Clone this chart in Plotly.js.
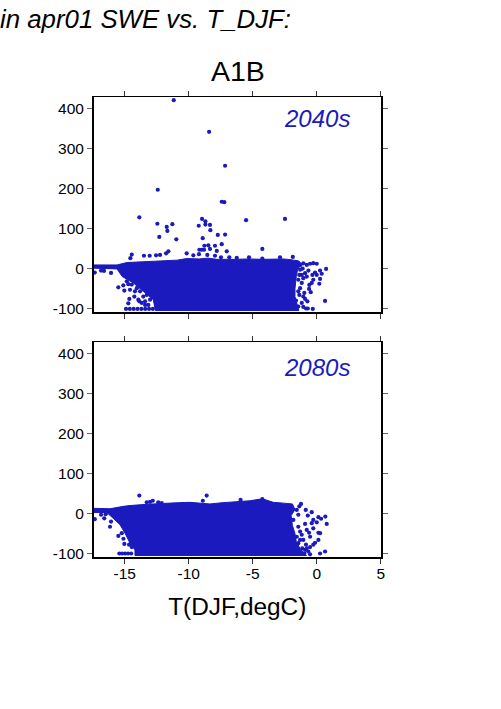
<!DOCTYPE html>
<html><head><meta charset="utf-8">
<script src="https://cdn.plot.ly/plotly-3.0.1.min.js"></script>
<style>html,body{margin:0;padding:0;background:#fff}</style></head>
<body><div id="chart" style="width:501px;height:709px"></div>
<script>
const xTickVals=[-15,-10,-5,0,5];
const xTickText=['-15','-10','-5','0','5'];
const yTickVals=[-100,0,100,200,300,400];
const yTickText=['-100','0','100','200','300','400'];
const blue='#1a1abe';

// dense cloud outlines
const mass40x=[-17.45,-15.6,-14.84,-14,-12.9,-11.72,-10.9,-10.16,-9.2,-8.5,-7.8,-6.5,-5.3,-4.2,-3.3,-2.6,-2,-1.4,-1.2,-1.4,-1.5,-1.6,-1.7,-1.7,-1.55,-1.4,-12.6,-12.77,-13.55,-14.33,-15.2,-15.6,-17.45];
const mass40y=[9,9,15,16,18,20,21,25,24,26,23,23,24,23,24,24,22,19,12,4,-3,-20,-50,-70,-90,-105,-105,-78,-57,-36,-20,-1,1];
const mass80x=[-17.45,-16.15,-15.1,-14.59,-13.3,-11.98,-10.9,-9.9,-8.34,-7.4,-6.77,-5.2,-4.25,-3.39,-2.6,-1.9,-1.7,-2,-1.9,-1.7,-1.6,-1.3,-0.8,-14.2,-14.2,-14.59,-14.98,-15.37,-15.9,-16.4,-17.45];
const mass80y=[13,12,18,20,23,26,27,28,24,27,28,32,37,28,26,24,10,-5,-30,-50,-70,-88,-105,-105,-91,-74,-49,-28,-12,2.5,2.5];

// individually visible points, 2040s
const pts40x=[-11.17,-8.41,-7.16,-12.42,-7.42,-7.22,-13.86,-12.45,-11.28,-11.72,-11.67,-12.3,-10.97,-8.96,-8.7,-8.7,-9.22,-8.34,-8.31,-7.73,-7.16,-8.91,-5.52,-2.48,-4.25,-7.03,-7.42,-7.95,-7.81,-8.47,-8.78,-9.17,-8.98,-8.8,-8.34,-8.55,-9.2,-9.64,-10.16,-11.59,-11.77,-12.24,-12.55,-13.05,-13.5,-14.45,-14.56,-7.95,-7.48,-6.83,-6.25,-5.29,-4.25,-2.87,-1.87,
0.73,0.65,0,-0.27,0.26,0.39,0.26,0.2,-0.27,-0.39,-0.58,-0.6,-0.47,-0.13,-0.34,-0.65,-0.91,-0.78,0,-1.17,-1.36,-0.97,-0.73,-0.91,-0.31,-0.7,-0.84,-1.05,-1.44,-1.62,-1.1,-1.3,
-1.3,-1.17,-1.05,-1.44,-1.3,-1.36,-1.17,-1.05,-1.44,-0.78,-0.52,-1.05,
-17.34,-16.85,-16.62,-16.07,-15.5,-15.11,-15.03,-14.72,-14.59,-14.2,-14.25,-14.64,-14.72,-13.86,-13.67,-13.41,-14.9,-14.6,-14.3,-14,-13.7,-13.4,-13.1,-12.8,
-14.84,-14.45,-14.06,-13.8,-13.55,-13.94,-13.41,-13.16,-13.02,-13.28];
const pts40y=[421,342,257,197,167,166,128,112,111,104,94,79,73,124,118,110,107,109,96,84,85,76,121,124,49,43,61,57,44,58,57,47,47,47,49,34,36,33,38,43,38,34,33,32,32,35,26,32,28,28,27,28,25,28,29,
-1,-81,12,13.5,-5,-13,-26,-38,-28,-36,-41,-51,-59,-10,-16,-5,-11.5,-20,-16,-36,-16,-61,-82,-76,-101,-100,-100,-70,-57,-80,0,8,
-3,-16,-24,-28,-49,-66,-86,-96,-95,9,12,13,
-10,-5,-6,-11,-47,-42,-55,-39,-53,-57,-70,-76,-87,-82,-86,-91,-101,-101,-101,-101,-101,-101,-101,-101,
-32,-40,-49,-57,-70,-78,-82,-91,-78,-66];

// individually visible points, 2080s
const pts80x=[-13.86,-13.28,-13.02,-12.81,-12.38,-12.11,-8.6,-8.9,-4.25,-5.95,
-17.34,-16.85,-16.6,-16.49,-16.07,-16.15,-15.5,-15.23,-15.1,-15.03,-14.66,-14.45,-15.42,-15.2,-14.97,-14.74,-14.5,
-1.23,-1.36,-0.86,-0.39,-0.7,0.13,0.34,0.67,0.78,0,-0.27,-0.39,-0.91,-0.27,0.13,0.26,0.13,-0.13,-0.27,-0.6,-0.52,-0.78,-1.17,-1.44,-0.84,-0.52,-0.66,0.26,0.65,-0.52,-0.97,
-1.56,-1.44,-1.83,-1.44,-1.3,-1.56,-1.3,-1.05,-1.13,-0.91,-0.78];
const pts80y=[45,28,29,32,28,26,45,32,36,34,
-14,-3,-12,-1.5,-20,-33,-56,-49,-63,-76,-78,-84,-100,-100,-100,-100,-100,
24,18,9,3.5,-5,-9,-13,-7.5,-26,-22,-16,-24,-26,-37,-48,-49,-66,-73,-78,-48,-58,-41,-53,-74,-78,-84,-95,-100,-95,-102,-100,
9,-3,-16,-33,-45,-58,-66,-66,-87,-91,-87];

const massTrace=(x,y,xa,ya)=>({type:'scatter',mode:'lines',x,y,xaxis:xa,yaxis:ya,fill:'toself',fillcolor:blue,line:{color:blue,width:1},hoverinfo:'skip',showlegend:false});
const ptsTrace=(x,y,xa,ya)=>({type:'scatter',mode:'markers',x,y,xaxis:xa,yaxis:ya,marker:{color:blue,size:4.2,line:{width:0}},showlegend:false});

const W=501,H=709;
const xAxis=(labels,anchor)=>({domain:[93.5/W,381/W],range:[-17.44,5.02],anchor,tickmode:'array',tickvals:xTickVals,ticktext:xTickText,showticklabels:labels,ticks:'outside',ticklen:5,tickwidth:1,tickcolor:'#333',ticklabelstandoff:-3,showgrid:false,zeroline:false,showline:true,linecolor:'#000',linewidth:1.5,mirror:'ticks',tickfont:{family:'Liberation Sans',size:15.5,color:'#000'}});
const yAxis=(top,bottom,anchor)=>({domain:[1-bottom/H,1-top/H],range:[-108.7,429],anchor,tickmode:'array',tickvals:yTickVals,ticktext:yTickText,ticks:'outside',ticklen:5,tickwidth:1,tickcolor:'#666',ticklabelstandoff:0,showgrid:false,zeroline:false,showline:true,linecolor:'#000',linewidth:1.5,mirror:'ticks',tickfont:{family:'Liberation Sans',size:15.5,color:'#000'}});

const x2=xAxis(true,'y2');
x2.title={text:'T(DJF,degC)',font:{family:'Liberation Sans',size:24.4,color:'#000'},standoff:17};

const layout={width:W,height:H,margin:{l:0,r:0,t:0,b:0},paper_bgcolor:'#fff',plot_bgcolor:'rgba(0,0,0,0)',showlegend:false,
 title:{text:'<i>in apr01 SWE vs. T_DJF:</i>',x:0,xref:'paper',xanchor:'left',y:1-19/H,yref:'paper',yanchor:'middle',pad:{l:0,r:0,t:0,b:0},font:{family:'Liberation Sans',size:25.8,color:'#000'}},
 xaxis:xAxis(false,'y'),yaxis:yAxis(97,312,'x'),xaxis2:x2,yaxis2:yAxis(342,557,'x2'),
 annotations:[
  {text:'A1B',xref:'paper',yref:'paper',x:237.5/W,y:1-71/H,xanchor:'center',yanchor:'middle',showarrow:false,font:{family:'Liberation Sans',size:28.5,color:'#000'}},
  {text:'<i>2040s</i>',xref:'paper',yref:'paper',x:317/W,y:1-119/H,xanchor:'center',yanchor:'middle',showarrow:false,font:{family:'Liberation Sans',size:24,color:blue}},
  {text:'<i>2080s</i>',xref:'paper',yref:'paper',x:317/W,y:1-367/H,xanchor:'center',yanchor:'middle',showarrow:false,font:{family:'Liberation Sans',size:24,color:blue}}
 ]};
Plotly.newPlot('chart',[massTrace(mass40x,mass40y,'x','y'),ptsTrace(pts40x,pts40y,'x','y'),massTrace(mass80x,mass80y,'x2','y2'),ptsTrace(pts80x,pts80y,'x2','y2')],layout,{displayModeBar:false,staticPlot:true});
</script></body></html>
